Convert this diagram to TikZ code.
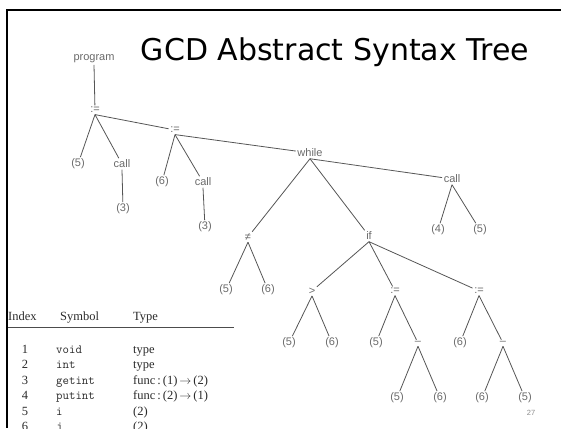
\documentclass[tikz,border=0pt]{standalone}
\usepackage{fontspec}
\setmainfont{Liberation Serif}
\setsansfont{Liberation Sans}
\newfontfamily\titlefont{DejaVu Sans}

\definecolor{treegray}{HTML}{6A6A6A}
\definecolor{edgegray}{HTML}{555555}
\definecolor{tabletext}{HTML}{2A2A2A}

\begin{document}
\begin{tikzpicture}[x=1pt,y=-1pt,
  tn/.style={font=\sffamily\fontsize{11}{12}\selectfont, text=treegray, inner sep=1.5pt},
  edge/.style={draw=edgegray, line width=0.8pt},
  cell/.style={font=\fontsize{12.5}{14}\selectfont, text=tabletext, inner sep=0pt, anchor=base west},
  mono/.style={cell, font=\ttfamily\fontsize{12.5}{14}\selectfont},
  num/.style={cell, anchor=base},
  frame/.style={line width=2.6pt, draw=black},
]
\useasboundingbox (0,0) rectangle (561,428);

% slide frame (top and left edges)
\draw[frame] (561,10) -- (7,10) -- (7,428);

% title
\node[font=\titlefont\fontsize{30}{34}\selectfont, inner sep=0pt] (title) at (335,52) {GCD Abstract Syntax Tree};

% syntax tree nodes
\node[tn] (prog) at (94,59) {program};
\node[tn] (as1) at (95,110) {:=};
\node[tn] (a5) at (78,164) {(5)};
\node[tn] (calla) at (122,164) {call};
\node[tn] (a3) at (123,209) {(3)};
\node[tn] (as2) at (175,130) {:=};
\node[tn] (b6) at (162,182) {(6)};
\node[tn] (callb) at (203,182) {call};
\node[tn] (b3) at (205,227) {(3)};
\node[tn] (wh) at (310,153) {while};
\node[tn] (callc) at (452,179) {call};
\node[tn] (c4) at (438,230) {(4)};
\node[tn] (c5) at (480,230) {(5)};
\node[tn] (ne) at (248,237) {≠};
\node[tn] (d5) at (226,290) {(5)};
\node[tn] (d6) at (268,290) {(6)};
\node[tn] (iff) at (369,236) {if};
\node[tn] (gt) at (312,291) {>};
\node[tn] (as3) at (395,291) {:=};
\node[tn] (as4) at (479,291) {:=};
\node[tn] (e5) at (289,343) {(5)};
\node[tn] (e6) at (332,343) {(6)};
\node[tn] (f5) at (376,343) {(5)};
\node[tn] (m1) at (418,343) {–};
\node[tn] (h6) at (460,343) {(6)};
\node[tn] (m2) at (503,343) {–};
\node[tn] (g5) at (397,398) {(5)};
\node[tn] (g6) at (440,398) {(6)};
\node[tn] (i6) at (482,398) {(6)};
\node[tn] (i5) at (525,398) {(5)};

% tree edges
\draw[edge] (prog.south) -- (as1);
\draw[edge] (as1.south) -- (a5);
\draw[edge] (as1.south) -- (calla);
\draw[edge] (as1.south) -- (as2);
\draw[edge] (calla.south) -- (a3);
\draw[edge] (as2.south) -- (b6);
\draw[edge] (as2.south) -- (callb);
\draw[edge] (as2.south) -- (wh);
\draw[edge] (callb.south) -- (b3);
\draw[edge] (wh.south) -- (ne);
\draw[edge] (wh.south) -- (iff);
\draw[edge] (wh.south) -- (callc);
\draw[edge] (callc.south) -- (c4);
\draw[edge] (callc.south) -- (c5);
\draw[edge] (ne.south) -- (d5);
\draw[edge] (ne.south) -- (d6);
\draw[edge] (iff.south) -- (gt);
\draw[edge] (iff.south) -- (as3);
\draw[edge] (iff.south) -- (as4);
\draw[edge] (gt.south) -- (e5);
\draw[edge] (gt.south) -- (e6);
\draw[edge] (as3.south) -- (f5);
\draw[edge] (as3.south) -- (m1);
\draw[edge] (m1.south) -- (g5);
\draw[edge] (m1.south) -- (g6);
\draw[edge] (as4.south) -- (h6);
\draw[edge] (as4.south) -- (m2);
\draw[edge] (m2.south) -- (i6);
\draw[edge] (m2.south) -- (i5);

% page number
\node[font=\sffamily\fontsize{7.5}{9}\selectfont, text=black!45] (pg) at (531,413) {27};

% symbol table
\node[cell] (hIdx) at (8,320) {Index};
\node[cell] (hSym) at (60,320) {Symbol};
\node[cell] (hTyp) at (133,320) {Type};
\coordinate (ruleL) at (8,327);
\coordinate (ruleR) at (234,327);
\draw[draw=black!70, line width=0.6pt] (ruleL) -- (ruleR);

\node[num] (n1) at (25,353) {1};
\node[mono] (s1) at (56,353) {void};
\node[cell] (t1) at (133,353) {type};

\node[num] (n2) at (25,368.5) {2};
\node[mono] (s2) at (56,368.5) {int};
\node[cell] (t2) at (133,368.5) {type};

\node[num] (n3) at (25,384) {3};
\node[mono] (s3) at (56,384) {getint};
\node[cell] (t3) at (133,384) {func$\,$:$\,$(1)$\,\rightarrow\,$(2)};

\node[num] (n4) at (25,399.5) {4};
\node[mono] (s4) at (56,399.5) {putint};
\node[cell] (t4) at (133,399.5) {func$\,$:$\,$(2)$\,\rightarrow\,$(1)};

\node[num] (n5) at (25,415) {5};
\node[mono] (s5) at (56,415) {i};
\node[cell] (t5) at (133,415) {(2)};

\node[num] (n6) at (25,430) {6};
\node[mono] (s6) at (56,430) {j};
\node[cell] (t6) at (133,430) {(2)};
\end{tikzpicture}
\end{document}
